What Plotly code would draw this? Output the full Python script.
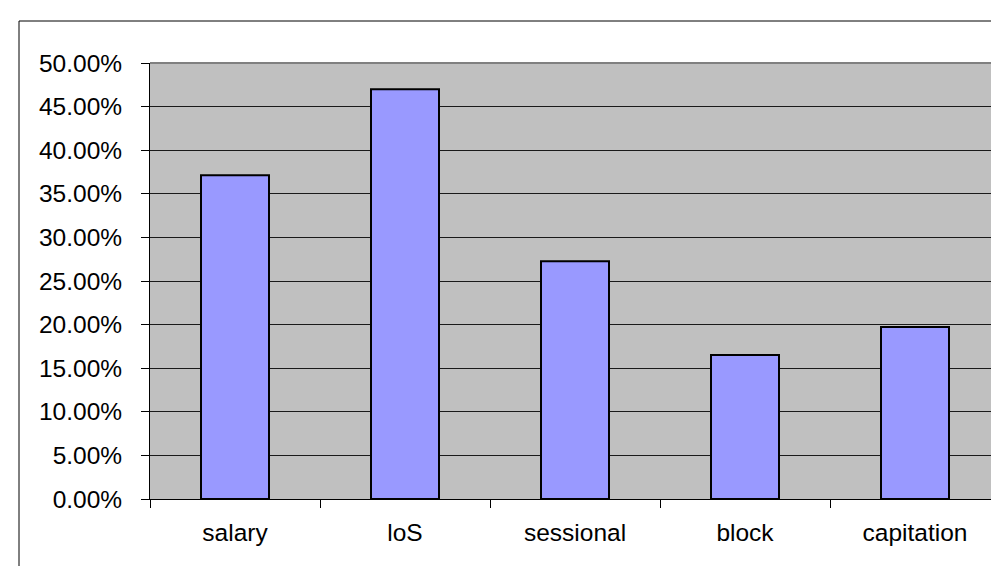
import plotly.graph_objects as go

categories = ["salary", "loS", "sessional", "block", "capitation"]
values = [0.3712, 0.4698, 0.2726, 0.1651, 0.1972]

L, R, T, B = 142, 7, 55, 75
W, H = 999, 566
pw = W - L - R
ph = H - T - B

fig = go.Figure()
fig.add_trace(go.Bar(
    x=categories, y=values, width=0.4,
    marker=dict(color="#9999FF", line=dict(color="#000000", width=2)),
    hoverinfo="x+y",
))

font = dict(family="Liberation Sans, Arial, sans-serif", size=24.5, color="#000000")

fig.update_layout(
    width=W, height=H,
    margin=dict(l=L, r=R, t=T, b=B, pad=0),
    paper_bgcolor="#FFFFFF",
    plot_bgcolor="#C0C0C0",
    showlegend=False,
    font=font,
    bargap=0.6,
    xaxis=dict(
        type="category", tickson="boundaries", ticks="outside", ticklen=8,
        tickcolor="#000000", tickwidth=1, showgrid=False,
        showline=True, linecolor="#000000", linewidth=1,
        tickfont=font, ticklabelstandoff=12,
    ),
    yaxis=dict(
        range=[0, 0.5], dtick=0.05, tickformat=".2%",
        ticks="outside", ticklen=8, tickcolor="#000000", tickwidth=1,
        showgrid=True, gridcolor="#1a1a1a", gridwidth=1,
        showline=True, linecolor="#000000", linewidth=1,
        zeroline=False, tickfont=font, ticklabelstandoff=14,
    ),
    shapes=[
        # plot area border (top/right gray)
        dict(type="line", xref="paper", yref="paper", x0=0, x1=1, y0=1, y1=1,
             line=dict(color="#808080", width=2)),
        dict(type="line", xref="paper", yref="paper", x0=1, x1=1, y0=0, y1=1,
             line=dict(color="#808080", width=2)),
        # outer chart border (left and top visible)
        dict(type="line", xref="paper", yref="paper",
             x0=(11 - L) / pw, x1=(W + 20 - L) / pw,
             y0=(H - B - 13) / ph, y1=(H - B - 13) / ph,
             line=dict(color="#000000", width=1)),
        dict(type="line", xref="paper", yref="paper",
             x0=(11 - L) / pw, x1=(11 - L) / pw,
             y0=(H - B - 13) / ph, y1=-(B + 20) / ph,
             line=dict(color="#000000", width=1)),
    ],
)

fig.write_html("out.html")
